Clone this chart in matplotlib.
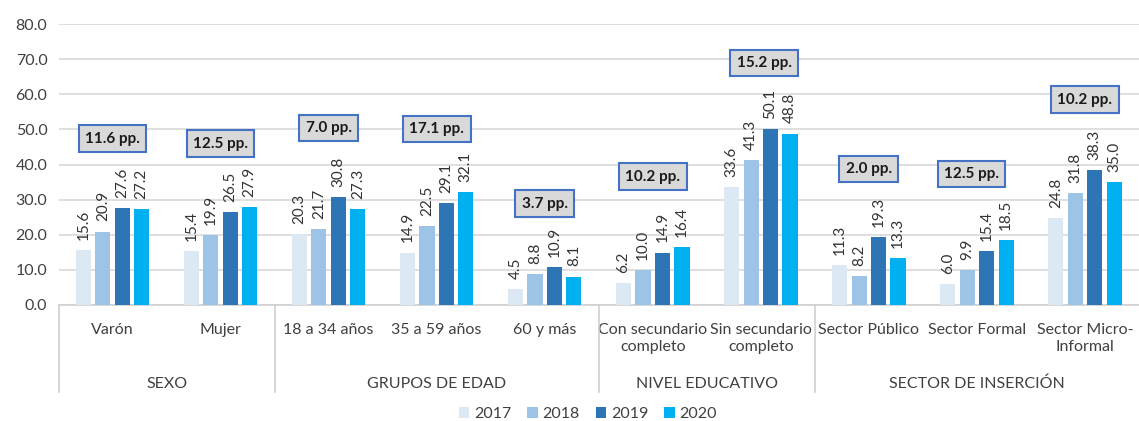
import matplotlib.pyplot as plt
import numpy as np

plt.rcParams['font.family'] = ['Lato', 'DejaVu Sans']

categories = ['Varón', 'Mujer', '18 a 34 años', '35 a 59 años', '60 y más',
              'Con secundario\ncompleto', 'Sin secundario\ncompleto',
              'Sector Público', 'Sector Formal', 'Sector Micro-\nInformal']
years = ['2017', '2018', '2019', '2020']
v2017 = [15.6, 15.4, 20.3, 14.9, 4.5, 6.2, 33.6, 11.3, 6.0, 24.8]
v2018 = [20.9, 19.9, 21.7, 22.5, 8.8, 10.0, 41.3, 8.2, 9.9, 31.8]
v2019 = [27.6, 26.5, 30.8, 29.1, 10.9, 14.9, 50.1, 19.3, 15.4, 38.3]
v2020 = [27.2, 27.9, 27.3, 32.1, 8.1, 16.4, 48.8, 13.3, 18.5, 35.0]

groups = ['SEXO', 'GRUPOS DE EDAD', 'NIVEL EDUCATIVO', 'SECTOR DE INSERCIÓN']
group_sizes = [2, 3, 2, 3]

# annotation boxes: text, x position (category index), y value
box_text = ['11.6 pp.', '12.5 pp.', '7.0 pp.', '17.1 pp.', '3.7 pp.',
            '10.2 pp.', '15.2 pp.', '2.0 pp.', '12.5 pp.', '10.2 pp.']
box_x = [0.0, 1.0, 2.0, 3.0, 4.0, 5.0, 6.03, 7.0, 7.95, 9.0]
box_y = [47.3, 45.9, 50.4, 50.1, 28.8, 36.5, 68.9, 38.7, 37.3, 58.4]

colors = ['#dde8f5', '#9dc3e6', '#2e75b6', '#00b0f0']
txt = '#404040'

fig = plt.figure(figsize=(11.39, 4.21), dpi=100)
ax = fig.add_axes([58.5 / 1139, 116 / 421, 1 - 58.5 / 1139, 281 / 421])

x = np.arange(len(categories))
pitch = 0.18
width = 0.14
for k, vals in enumerate([v2017, v2018, v2019, v2020]):
    pos = x + (k - 1.5) * pitch
    ax.bar(pos, vals, width, color=colors[k], label=years[k], zorder=3)
    for p, v in zip(pos, vals):
        ax.text(p, v + 2.9, f'{v:.1f}', rotation=90, ha='center', va='bottom',
                fontsize=11, color='#333333')

for t, bx, by in zip(box_text, box_x, box_y):
    ax.text(bx, by, t, ha='center', va='center', fontsize=11, fontweight='bold',
            color='#1a1a1a', zorder=5,
            bbox=dict(boxstyle='square,pad=0.42', fc='#d9d9d9', ec='#4472c4', lw=1.5))

ax.set_ylim(0, 80)
ax.set_xlim(-0.5, len(categories) - 0.5)
ax.set_yticks(np.arange(0, 81, 10))
ax.set_yticklabels([f'{v:.1f}' for v in np.arange(0, 81, 10)], fontsize=11.5, color=txt)
ax.yaxis.grid(True, color='#d9d9d9', lw=1.2, zorder=0)
ax.set_xticks(x)
ax.set_xticklabels(categories, fontsize=11.5, color=txt, linespacing=1.3)
ax.tick_params(axis='both', length=0)
ax.tick_params(axis='x', pad=13)
ax.tick_params(axis='y', pad=8)
for s in ['top', 'right', 'left']:
    ax.spines[s].set_visible(False)
ax.spines['bottom'].set_color('#d0d0d0')
ax.spines['bottom'].set_linewidth(1.2)

# group separators and labels
trans = ax.get_xaxis_transform()
start = -0.5
for g, n in zip(groups, group_sizes):
    ax.plot([start, start], [0, -0.31], color='#d0d0d0', lw=1.2,
            transform=trans, clip_on=False)
    ax.text(start + n / 2, -0.28, g, ha='center', va='center',
            fontsize=11.5, color=txt, transform=trans)
    start += n

fig.legend(loc='center', bbox_to_anchor=(588 / 1139, 7 / 421), ncol=4,
           frameon=False, fontsize=11.5, handlelength=0.65, handleheight=0.65,
           handletextpad=0.3, columnspacing=1.0, labelcolor=txt)

fig.savefig('out.png', dpi=100)
